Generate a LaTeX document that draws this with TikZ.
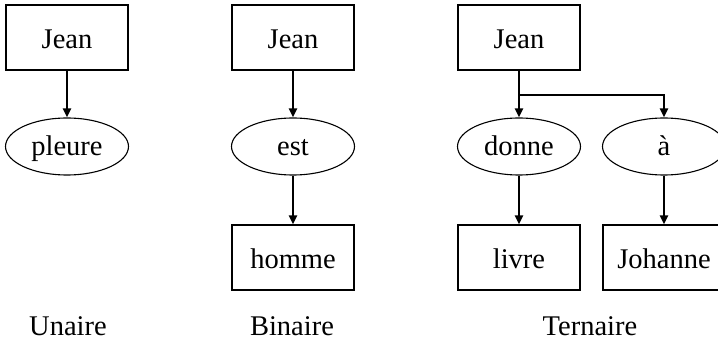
\documentclass[tikz,border=0pt]{standalone}
\usepackage{fontspec}
\setmainfont{Liberation Serif}
\usetikzlibrary{arrows.meta,shapes.geometric}
\begin{document}
\begin{tikzpicture}[x=1pt,y=-1pt,
  every node/.style={font=\fontsize{28.5}{34}\selectfont},
  boite/.style={draw,line width=1.2pt,minimum width=122pt,minimum height=65pt,inner sep=0pt,text height=22pt,text depth=0pt},
  ovale/.style={draw,ellipse,line width=1.1pt,minimum width=123pt,minimum height=57pt,inner sep=0pt,text height=20pt,text depth=2pt},
  fleche/.style={line width=2.5pt,-{Triangle[length=9pt,width=8pt]}},
  etiquette/.style={inner sep=0pt,anchor=base}]
\useasboundingbox (0,0) rectangle (718,347);
% Unaire
\node[boite] (j1) at (67,37.5) {Jean};
\node[ovale] (p1) at (67,146.5) {pleure};
\draw[fleche] (j1) -- (p1);
\node[etiquette] (u) at (68,336) {Unaire};
% Binaire
\node[boite] (j2) at (293,37.5) {Jean};
\node[ovale] (e2) at (293,146.5) {est};
\node[boite] (h2) at (293,257.5) {homme};
\draw[fleche] (j2) -- (e2);
\draw[fleche] (e2) -- (h2);
\node[etiquette] (b) at (292,336) {Binaire};
% Ternaire
\node[boite] (j3) at (519,37.5) {Jean};
\node[ovale] (d3) at (519,146.5) {donne};
\node[ovale] (a3) at (664,146.5) {à};
\node[boite] (l3) at (519,257.5) {livre};
\node[boite] (jo3) at (664,257.5) {Johanne};
\coordinate (fourche) at (519,95);
\draw[fleche] (j3) -- (d3);
\draw[fleche] (fourche) -| (a3.north);
\draw[fleche] (d3) -- (l3);
\draw[fleche] (a3) -- (jo3);
\node[etiquette] (t) at (590,336) {Ternaire};
\end{tikzpicture}
\end{document}
